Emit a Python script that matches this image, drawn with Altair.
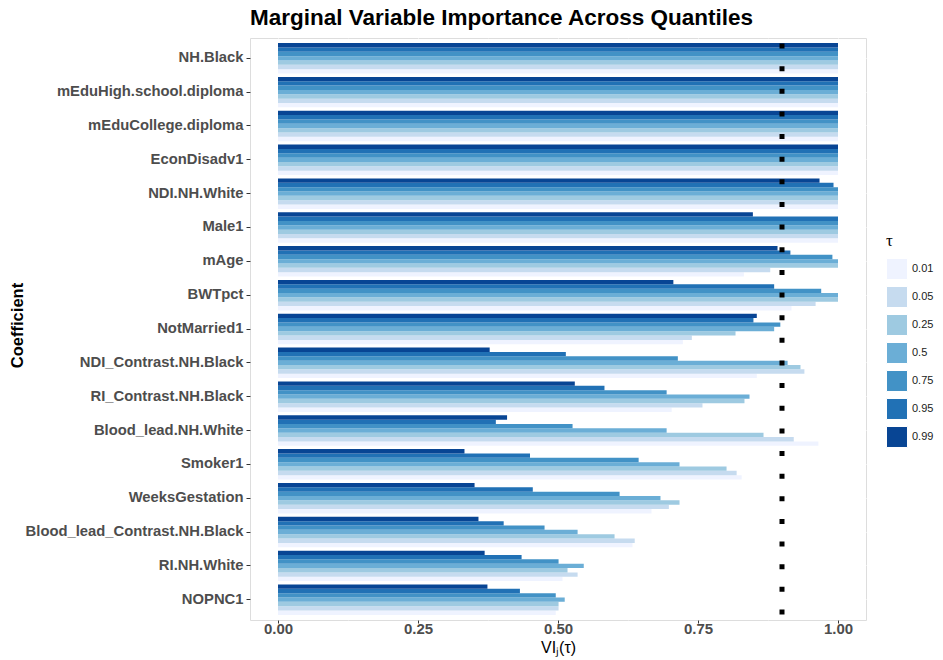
import altair as alt
import pandas as pd

coefficients = ["NH.Black", "mEduHigh.school.diploma", "mEduCollege.diploma", "EconDisadv1",
                "NDI.NH.White", "Male1", "mAge", "BWTpct", "NotMarried1",
                "NDI_Contrast.NH.Black", "RI_Contrast.NH.Black", "Blood_lead.NH.White",
                "Smoker1", "WeeksGestation", "Blood_lead_Contrast.NH.Black", "RI.NH.White", "NOPNC1"]
taus = ["0.01", "0.05", "0.25", "0.5", "0.75", "0.95", "0.99"]

# values per quantile, in the order of `coefficients`
vi_099 = [1, 1, 1, 1, 0.967, 0.848, 0.892, 0.706, 0.855, 0.378, 0.530, 0.409, 0.333, 0.351, 0.358, 0.369, 0.374]
vi_095 = [1, 1, 1, 1, 0.992, 1.0, 0.915, 0.886, 0.849, 0.514, 0.583, 0.389, 0.450, 0.455, 0.403, 0.435, 0.432]
vi_075 = [1, 1, 1, 1, 1.0, 1.0, 0.990, 0.970, 0.897, 0.714, 0.694, 0.526, 0.644, 0.610, 0.476, 0.501, 0.496]
vi_050 = [1, 1, 1, 1, 1.0, 1.0, 1.0, 1.0, 0.886, 0.910, 0.842, 0.694, 0.717, 0.683, 0.535, 0.546, 0.512]
vi_025 = [1, 1, 1, 1, 1.0, 1.0, 1.0, 1.0, 0.817, 0.933, 0.833, 0.867, 0.801, 0.717, 0.601, 0.517, 0.501]
vi_005 = [1, 1, 1, 1, 1.0, 1.0, 0.879, 0.960, 0.739, 0.940, 0.758, 0.921, 0.819, 0.698, 0.637, 0.535, 0.501]
vi_001 = [1, 1, 1, 1, 1.0, 1.0, 0.832, 0.917, 0.723, 0.855, 0.703, 0.965, 0.828, 0.667, 0.633, 0.508, 0.496]

threshold = 0.9
x_ticks = [0, 0.25, 0.5, 0.75, 1.0]
x_minor = [0.125, 0.375, 0.625, 0.875]
colors = ["#eff3ff", "#c6dbef", "#9ecae1", "#6baed6", "#4292c6", "#2171b5", "#084594"]

series = {"0.01": vi_001, "0.05": vi_005, "0.25": vi_025, "0.5": vi_050,
          "0.75": vi_075, "0.95": vi_095, "0.99": vi_099}
rows = []
for t in taus:
    for c, v in zip(coefficients, series[t]):
        rows.append({"coef": c, "tau": t, "vi": v})
df = pd.DataFrame(rows)

FONT = "Liberation Sans"
xscale = alt.Scale(domain=[-0.05, 1.05], nice=False, zero=False)

bars = alt.Chart(df).mark_bar().encode(
    x=alt.X("vi:Q", scale=xscale,
            axis=alt.Axis(values=x_ticks, format=".2f", title="VIⱼ(τ)",
                          grid=True, gridColor="white", gridWidth=1.1,
                          labelFont=FONT, labelFontSize=15, labelFontWeight="bold",
                          labelColor="#4d4d4d", labelPadding=-2,
                          tickColor="#333333", tickSize=3, domain=False,
                          titleFont=FONT, titleFontSize=16, titleFontWeight="normal",
                          titleColor="black", titlePadding=3)),
    y=alt.Y("coef:N", sort=coefficients,
            scale=alt.Scale(paddingInner=0.1, paddingOuter=0.15),
            axis=alt.Axis(title="Coefficient", bandPosition=0.5, grid=True,
                          gridColor="white", gridWidth=1.1,
                          labelFont=FONT, labelFontSize=14.8, labelFontWeight="bold",
                          labelColor="#4d4d4d", labelPadding=3, labelLimit=0,
                          tickColor="#333333", tickSize=4, domain=False,
                          titleFont=FONT, titleFontSize=16.5, titleFontWeight="bold",
                          titleColor="black", titleX=-233, titleY=287, titleAngle=270,
                          titleAlign="center", titleBaseline="middle")),
    yOffset=alt.YOffset("tau:N", sort=taus[::-1],
                        scale=alt.Scale(paddingInner=0, paddingOuter=0)),
    color=alt.Color("tau:N", sort=taus, scale=alt.Scale(domain=taus, range=colors),
                    legend=alt.Legend(title="τ", orient="none", legendX=636, legendY=195,
                                      symbolType="square", symbolSize=440,
                                      symbolStrokeColor="white", symbolStrokeWidth=1,
                                      symbolOpacity=1, rowPadding=2, labelOffset=4,
                                      labelLimit=0,
                                      labelFont=FONT, labelFontSize=11, labelColor="#1a1a1a",
                                      titleFont="Liberation Serif", titleFontSize=17,
                                      titleFontWeight="normal", titlePadding=8)),
)

vline = alt.Chart(pd.DataFrame({"t": [threshold]})).mark_rule(
    color="black", strokeWidth=5, strokeDash=[5, 17.64], strokeDashOffset=-5.5
).encode(
    x=alt.X("t:Q", scale=xscale,
            axis=alt.Axis(orient="top", values=x_minor, grid=True, gridColor="white",
                          gridWidth=0.5, labels=False, ticks=False, domain=False, title=None))
)

chart = alt.layer(bars, vline).resolve_axis(x="independent").properties(
    width=616, height=582,
    title=alt.TitleParams("Marginal Variable Importance Across Quantiles", anchor="start",
                          frame="group", font=FONT, fontSize=22.5, fontWeight="bold",
                          color="black", offset=6),
    autosize=alt.AutoSizeParams(type="none"),
    padding={"left": 242, "top": 30, "right": 69, "bottom": 40},
).configure_view(fill="#ebebeb", stroke=None).configure(background="white")

chart.save("out.html", embed_options={"renderer": "svg", "actions": False})
